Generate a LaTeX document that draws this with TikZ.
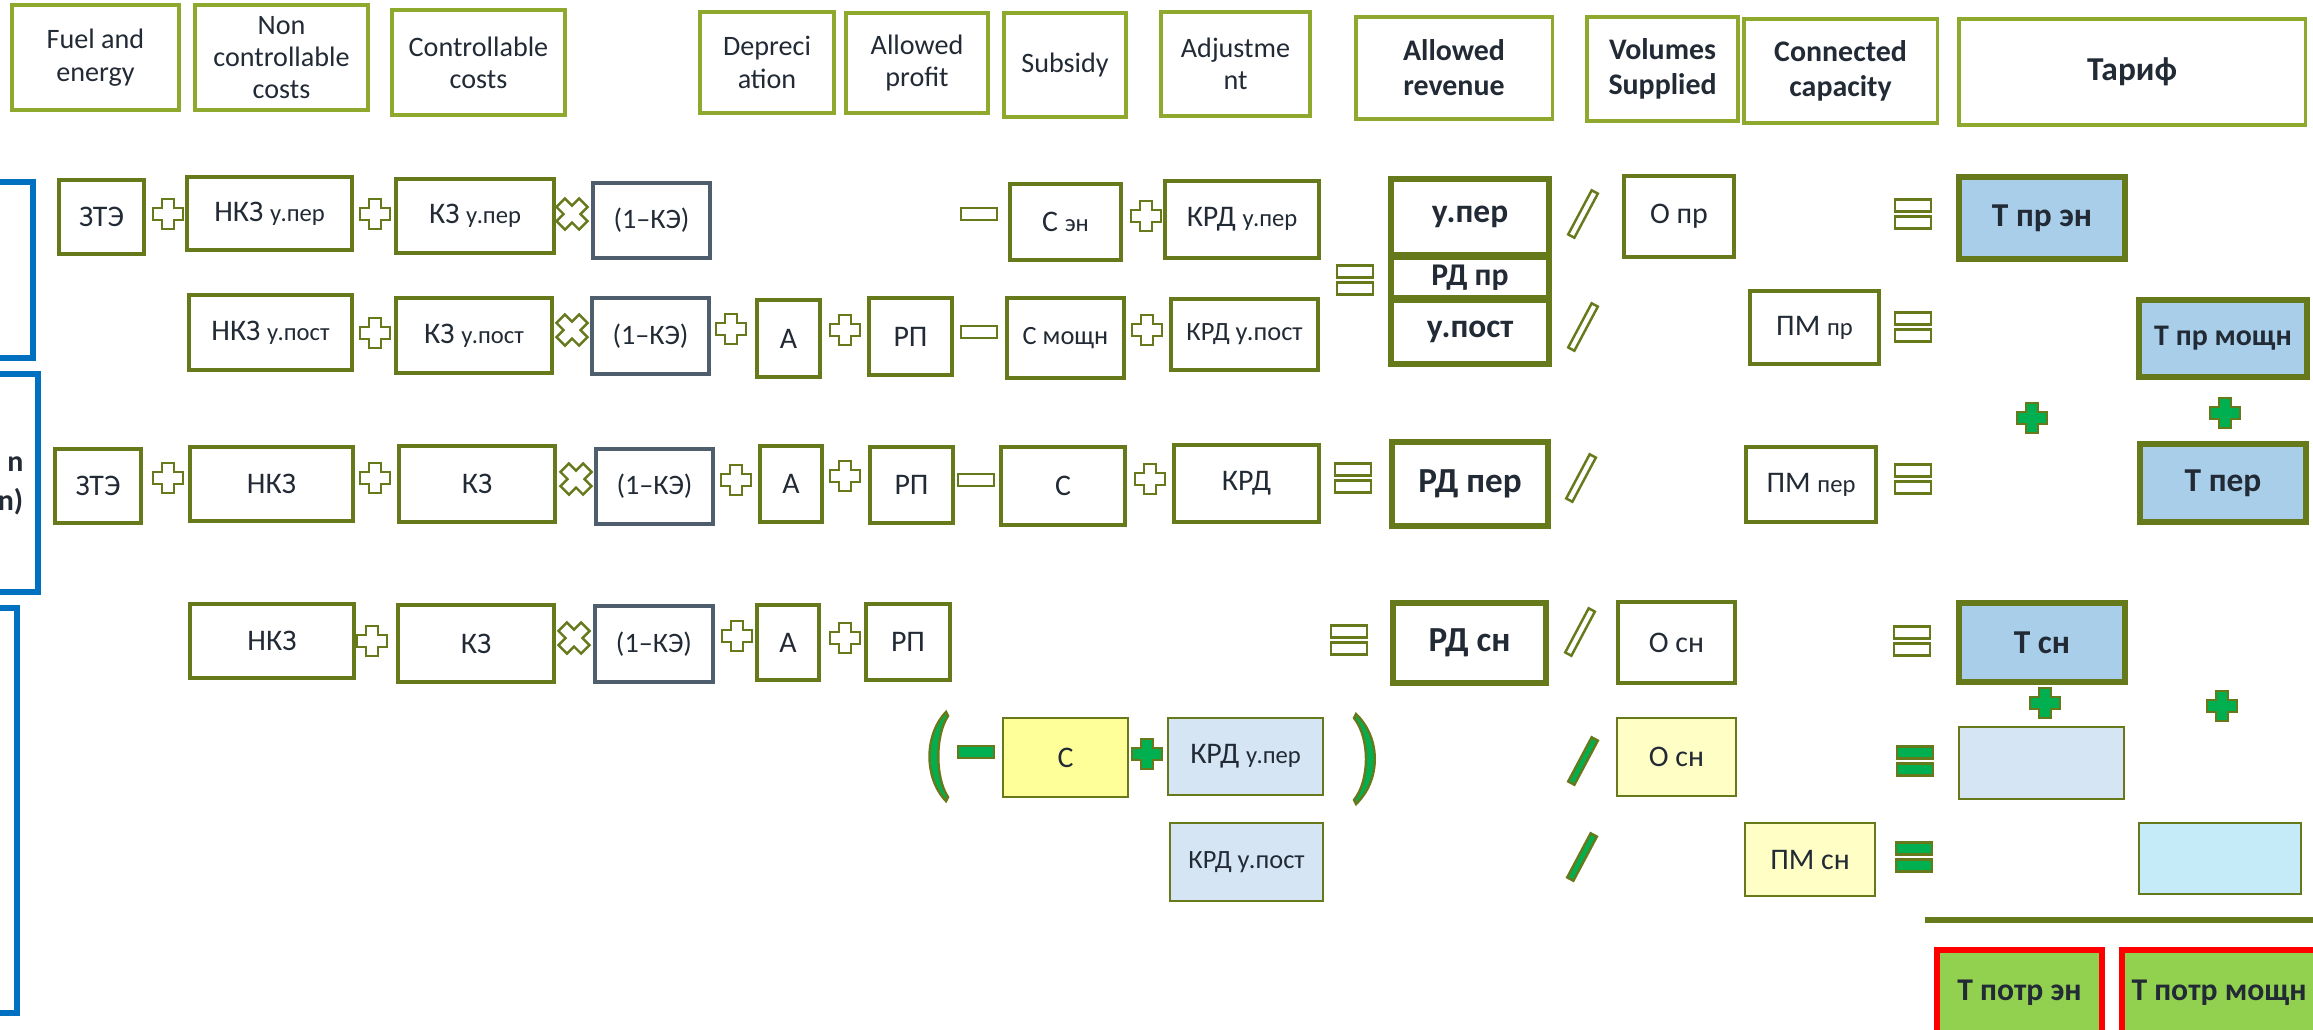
\documentclass[tikz,border=0pt]{standalone}
\usepackage{fontspec}
\setmainfont{Carlito}
\definecolor{olv}{HTML}{667A1C}
\definecolor{olvl}{HTML}{8FA82E}
\definecolor{slate}{HTML}{4F5E6D}
\definecolor{txt}{HTML}{222A35}
\definecolor{blu}{HTML}{0070C0}
\definecolor{grn}{HTML}{00B050}
\definecolor{tblue}{HTML}{A8CEEA}
\definecolor{kblue}{HTML}{D5E5F3}
\definecolor{ycol}{HTML}{FFFF99}
\definecolor{pyel}{HTML}{FFFFC5}
\definecolor{lcyan}{HTML}{C5EBF9}
\definecolor{lgrn}{HTML}{92D050}
\newcommand\sm{\fontsize{7}{8}\selectfont}
\tikzset{
  bb/.style n args={4}{at={({(#1+#3)/2},{(#2+#4)/2})}, anchor=center, minimum width={(#3-#1)*0.28453pt}, minimum height={(#4-#2)*0.28453pt}},
  bx/.style={draw=olv, line width=0.9pt, inner sep=0pt, align=center, text=txt, font=\fontsize{8.5}{10}\selectfont},
  hd/.style={draw=olvl, line width=0.9pt, inner sep=0pt, align=center, text=txt, font=\fontsize{8}{9.2}\selectfont},
  hdb/.style={hd, font=\bfseries\fontsize{8.5}{10}\selectfont},
  kb/.style={bx, draw=slate},
  tk/.style={bx, line width=1.8pt, font=\bfseries\fontsize{9.5}{11}\selectfont},
  tf/.style={tk, fill=tblue},
  lb/.style={bx, line width=0.7pt},
  bluebox/.style={draw=blu, line width=1.6pt, inner sep=0pt},
  redbox/.style={draw=red, line width=1.8pt, fill=lgrn, inner sep=0pt, align=center, text=txt, font=\bfseries\fontsize{9}{11}\selectfont},
  opl/.style={draw=olv, fill=white, line width=0.7pt},
  gop/.style={draw=olv, fill=grn, line width=0.7pt},
  pluso/.pic={\path[pic actions] (-6,-15)--(6,-15)--(6,-6)--(15,-6)--(15,6)--(6,6)--(6,15)--(-6,15)--(-6,6)--(-15,6)--(-15,-6)--(-6,-6)--cycle;},
  timeso/.pic={\path[pic actions, rotate=45] (-6,-16)--(6,-16)--(6,-6)--(16,-6)--(16,6)--(6,6)--(6,16)--(-6,16)--(-6,6)--(-16,6)--(-16,-6)--(-6,-6)--cycle;},
  minuso/.pic={\path[pic actions] (-18,-6) rectangle (18,6);},
  eqo/.pic={\path[pic actions] (-18,-14.5) rectangle (18,-2.5); \path[pic actions] (-18,2.5) rectangle (18,14.5);},
  slasho/.pic={\path[pic actions, rotate=62] (-25,-3.5) rectangle (25,3.5);}
}
\begin{document}
\begin{tikzpicture}[x=0.01cm,y=-0.01cm]
\path[use as bounding box, clip] (0,0) rectangle (2313,1029);

% header row
\node[hd, bb={12}{5}{179}{110}] (hfuel) {Fuel and\\energy};
\node[hd, bb={195}{5}{368}{110}] (hnonc) {Non\\controllable\\costs};
\node[hd, bb={392}{10}{565}{115}] (hctrl) {Controllable\\costs};
\node[hd, bb={700}{12}{834}{113}] (hdepr) {Depreci\\ation};
\node[hd, bb={846}{13}{988}{113}] (hprof) {Allowed\\profit};
\node[hd, bb={1004}{13}{1126}{117}] (hsubs) {Subsidy};
\node[hd, bb={1161}{12}{1310}{116}] (hadj) {Adjustme\\nt};
\node[hdb, bb={1356}{17}{1552}{119}] (hrev) {Allowed\\revenue};
\node[hdb, bb={1587}{17}{1738}{121}] (hvol) {Volumes\\Supplied};
\node[hdb, bb={1744}{19}{1937}{123}] (hcap) {Connected\\capacity};
\node[hdb, bb={1959}{19}{2305}{125}, font=\bfseries\fontsize{9.5}{11}\selectfont] (htar) {Тариф};

% left blue frames
\node[bluebox, bb={-60}{182}{33}{358}] (bl1) {};
\node[bluebox, bb={-60}{374}{38}{592}] (bl2) {};
\node[bluebox, bb={-60}{608}{17}{1013}] (bl3) {};
\node[anchor=east, align=right, inner sep=0pt, text=txt, font=\bfseries\fontsize{8.5}{11}\selectfont] (bl2t) at (24,486) {n\\n)};

% row 1
\node[bx, bb={59}{180}{144}{254}] (zte1) {ЗТЭ};
\pic[opl] at (168,214) {pluso};
\node[bx, bb={187}{177}{352}{250}] (nkz1) {НКЗ {\sm у.пер}};
\pic[opl] at (375,214) {pluso};
\node[bx, bb={396}{179}{554}{253}] (kz1) {КЗ {\sm у.пер}};
\pic[opl] at (572,214) {timeso};
\node[kb, bb={593}{183}{710}{258}, font=\fontsize{8}{10}\selectfont] (ke1) {(1–КЭ)};
\pic[opl] at (979,214) {minuso};
\node[bx, bb={1010}{184}{1121}{260}] (sen) {С {\sm эн}};
\pic[opl] at (1146,216) {pluso};
\node[bx, bb={1165}{181}{1319}{258}] (krd1) {КРД {\sm у.пер}};
\pic[opl] at (1355,280) {eqo};
\node[tk, bb={1391}{179}{1549}{255}] (uper) {у.пер};
\node[tk, bb={1391}{257}{1549}{298}, font=\bfseries\fontsize{9}{10}\selectfont] (rdpr) {РД пр};
\node[tk, bb={1391}{300}{1549}{364}] (upost) {у.пост};
\pic[opl] at (1583,214) {slasho};
\node[bx, bb={1624}{176}{1734}{257}] (opr) {О пр};
\pic[opl] at (1913,214) {eqo};
\node[tf, bb={1959}{177}{2125}{259}] (tpren) {Т пр эн};

% row 2
\node[bx, bb={189}{295}{352}{370}] (nkz2) {НКЗ {\sm у.пост}};
\pic[opl] at (375,333) {pluso};
\node[bx, bb={396}{298}{552}{373}] (kz2) {КЗ {\sm у.пост}};
\pic[opl] at (572,330) {timeso};
\node[kb, bb={592}{298}{709}{374}, font=\fontsize{8}{10}\selectfont] (ke2) {(1–КЭ)};
\pic[opl] at (731,329) {pluso};
\node[bx, bb={757}{300}{820}{377}] (a2) {А};
\pic[opl] at (845,330) {pluso};
\node[bx, bb={869}{298}{952}{375}] (rp2) {РП};
\pic[opl] at (979,332) {minuso};
\node[bx, bb={1007}{298}{1124}{378}, font=\fontsize{7.5}{9}\selectfont] (smo) {С мощн};
\pic[opl] at (1147,330) {pluso};
\node[bx, bb={1171}{299}{1318}{370}, font=\fontsize{7.5}{9}\selectfont] (krd2) {КРД у.пост};
\pic[opl] at (1583,327) {slasho};
\node[bx, bb={1750}{291}{1879}{364}] (pmpr) {ПМ {\sm пр}};
\pic[opl] at (1913,327) {eqo};
\node[tf, bb={2139}{300}{2307}{377}, font=\bfseries\fontsize{8.5}{10}\selectfont] (tprm) {Т пр мощн};

\pic[gop] at (2032,418) {pluso};
\pic[gop] at (2225,413) {pluso};

% row 3
\node[bx, bb={55}{449}{141}{523}] (zte3) {ЗТЭ};
\pic[opl] at (168,478) {pluso};
\node[bx, bb={190}{447}{353}{521}] (nkz3) {НКЗ};
\pic[opl] at (375,478) {pluso};
\node[bx, bb={399}{446}{555}{522}] (kz3) {КЗ};
\pic[opl] at (576,479) {timeso};
\node[kb, bb={596}{449}{713}{524}, font=\fontsize{8}{10}\selectfont] (ke3) {(1–КЭ)};
\pic[opl] at (736,480) {pluso};
\node[bx, bb={760}{446}{822}{522}] (a3) {А};
\pic[opl] at (845,476) {pluso};
\node[bx, bb={870}{447}{953}{523}] (rp3) {РП};
\pic[opl] at (976,480) {minuso};
\node[bx, bb={1001}{447}{1125}{525}] (c3) {С};
\pic[opl] at (1150,479) {pluso};
\node[bx, bb={1174}{445}{1319}{522}] (krd3) {КРД};
\pic[opl] at (1353,478) {eqo};
\node[tk, bb={1392}{442}{1548}{526}, font=\bfseries\fontsize{10}{12}\selectfont] (rdper) {РД пер};
\pic[opl] at (1581,478) {slasho};
\node[bx, bb={1746}{447}{1876}{522}] (pmper) {ПМ {\sm пер}};
\pic[opl] at (1913,479) {eqo};
\node[tf, bb={2140}{444}{2306}{522}] (tper) {Т пер};

% row 4
\node[bx, bb={190}{604}{354}{678}] (nkz4) {НКЗ};
\pic[opl] at (372,641) {pluso};
\node[bx, bb={398}{605}{554}{682}] (kz4) {КЗ};
\pic[opl] at (574,638) {timeso};
\node[kb, bb={595}{606}{713}{682}, font=\fontsize{8}{10}\selectfont] (ke4) {(1–КЭ)};
\pic[opl] at (737,636) {pluso};
\node[bx, bb={757}{605}{819}{680}] (a4) {А};
\pic[opl] at (845,638) {pluso};
\node[bx, bb={866}{604}{950}{680}] (rp4) {РП};
\pic[opl] at (1349,640) {eqo};
\node[tk, bb={1393}{603}{1546}{683}, font=\bfseries\fontsize{10}{12}\selectfont] (rdsn) {РД сн};
\pic[opl] at (1580,632) {slasho};
\node[bx, bb={1618}{602}{1735}{683}] (osn) {О сн};
\pic[opl] at (1912,641) {eqo};
\node[tf, bb={1959}{603}{2125}{682}] (tsn) {Т сн};

\pic[gop] at (2045,703) {pluso};
\pic[gop] at (2222,706) {pluso};

% row 5
\path[gop] (946,712) .. controls (924,735) and (924,778) .. (946,801) -- (948,797) .. controls (935,778) and (935,735) .. (948,716) -- cycle;
\pic[gop] at (976,752) {minuso};
\node[lb, bb={1003}{718}{1128}{797}, fill=ycol] (cy) {С};
\pic[gop] at (1147,754) {pluso};
\node[lb, bb={1168}{718}{1323}{795}, fill=kblue] (krdb1) {КРД {\sm у.пер}};
\path[gop] (1356,714) .. controls (1381,738) and (1381,780) .. (1356,804) -- (1354,800) .. controls (1370,780) and (1370,738) .. (1354,718) -- cycle;
\pic[gop] at (1583,761) {slasho};
\node[lb, bb={1617}{718}{1736}{796}, fill=pyel] (osn2) {О сн};
\pic[gop] at (1915,761) {eqo};
\node[lb, bb={1959}{727}{2124}{799}, fill=kblue] (lb1) {};

% row 6
\node[lb, bb={1170}{823}{1323}{901}, fill=kblue, font=\fontsize{7.5}{9}\selectfont] (krdb2) {КРД у.пост};
\pic[gop] at (1582,857) {slasho};
\node[lb, bb={1745}{823}{1875}{896}, fill=pyel] (pmsn) {ПМ сн};
\pic[gop] at (1914,857) {eqo};
\node[lb, bb={2139}{823}{2301}{894}, fill=lcyan] (lc1) {};

% fraction line and bottom boxes
\coordinate (la) at (1925,920);
\coordinate (lbb) at (2320,920);
\draw[olv, line width=1.7pt] (la) -- (lbb);
\node[redbox, bb={1937}{950}{2102}{1036}] (tpoten) {Т потр эн};
\node[redbox, bb={2122}{950}{2316}{1036}] (tpotm) {Т потр мощн};
\end{tikzpicture}
\end{document}
